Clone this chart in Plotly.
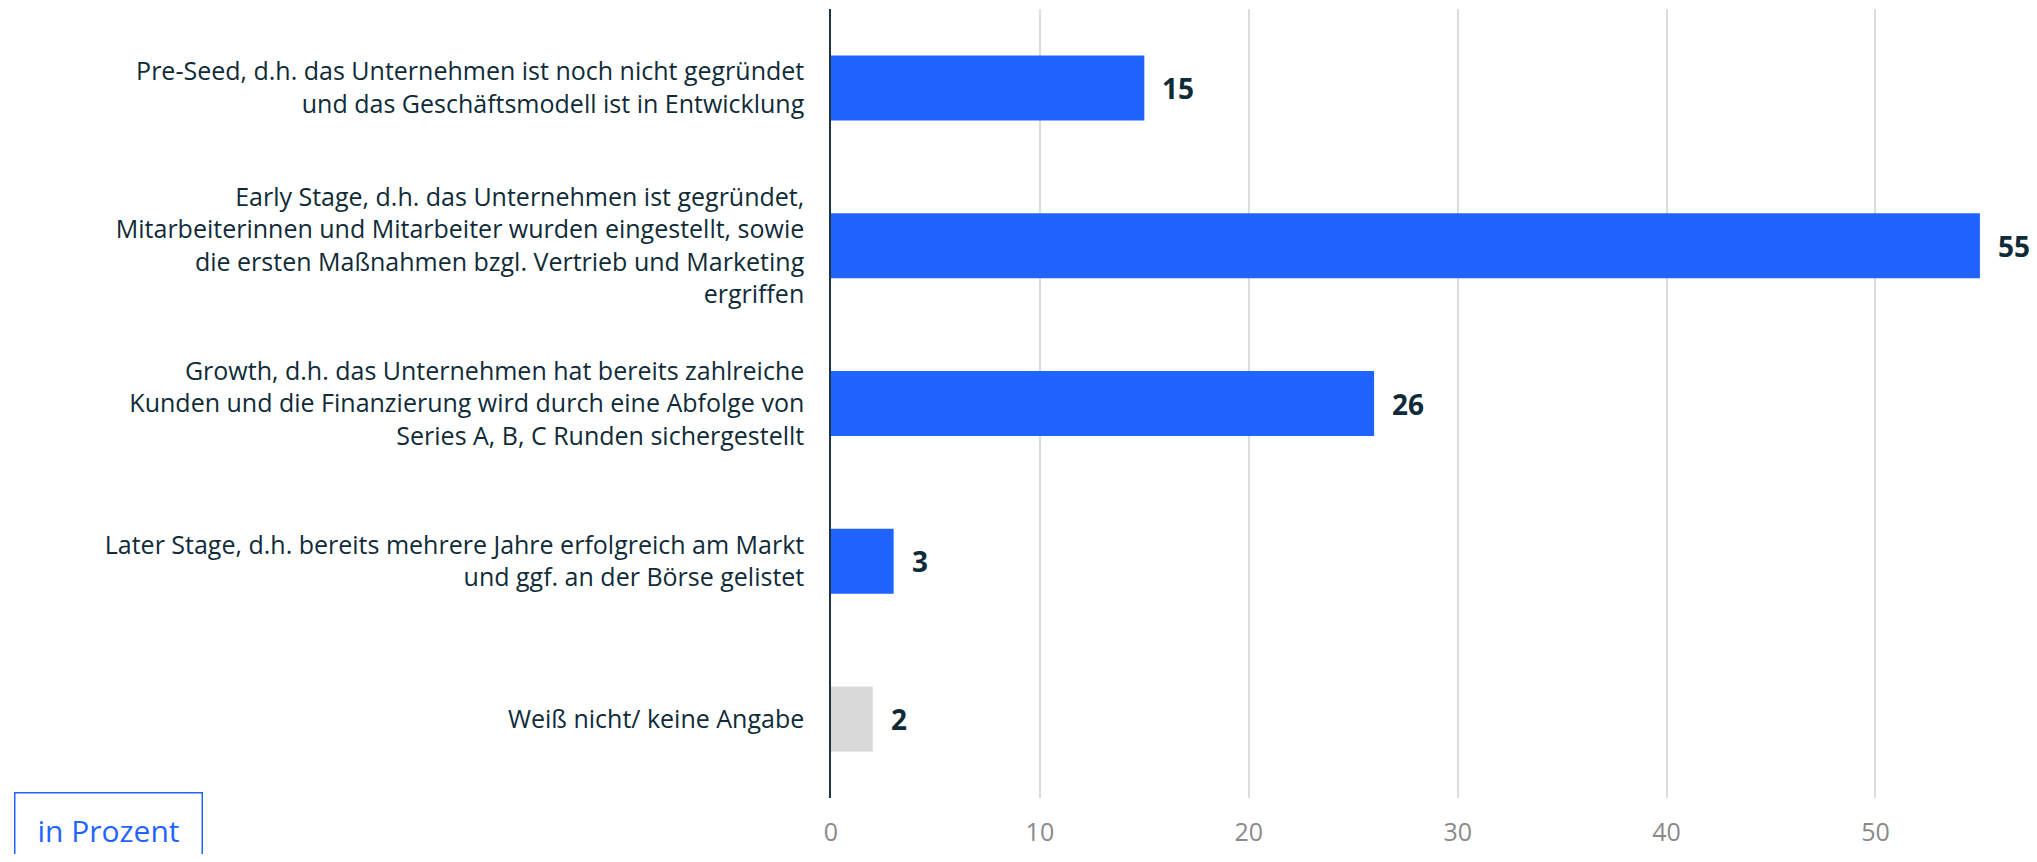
import plotly.graph_objects as go

# Daten
categories = [
    "Pre-Seed, d.h. das Unternehmen ist noch nicht gegründet<br>und das Geschäftsmodell ist in Entwicklung",
    "Early Stage, d.h. das Unternehmen ist gegründet,<br>Mitarbeiterinnen und Mitarbeiter wurden eingestellt, sowie<br>die ersten Maßnahmen bzgl. Vertrieb und Marketing<br>ergriffen",
    "Growth, d.h. das Unternehmen hat bereits zahlreiche<br>Kunden und die Finanzierung wird durch eine Abfolge von<br>Series A, B, C Runden sichergestellt",
    "Later Stage, d.h. bereits mehrere Jahre erfolgreich am Markt<br>und ggf. an der Börse gelistet",
    "Weiß nicht/ keine Angabe",
]
values = [15, 55, 26, 3, 2]
bar_colors = ["#1f64ff", "#1f64ff", "#1f64ff", "#1f64ff", "#d9d9d9"]
x_ticks = [0, 10, 20, 30, 40, 50]
unit_label = "in Prozent"

FONT = "Open Sans"
TEXT = "#0f2b38"

# die Seite hat 8px Rand -> Figur etwas kleiner
W, H = 2021, 846
L, T, B = 823, 1, 56

fig = go.Figure()
fig.add_trace(go.Bar(
    x=values,
    y=categories,
    orientation="h",
    marker=dict(color=bar_colors, line=dict(width=0)),
    hoverinfo="x",
))

# Werte neben den Balken
for cat, val in zip(categories, values):
    fig.add_annotation(
        x=val, y=cat, text="<b>%d</b>" % val,
        showarrow=False, xanchor="left", xshift=16,
        font=dict(family=FONT, size=28, color=TEXT),
    )

# Einheit unten links
fig.add_annotation(
    x=0, y=0, xref="paper", yref="paper",
    xshift=6 - L, yshift=6,
    xanchor="left", yanchor="top",
    text=unit_label, showarrow=False,
    width=154, height=100, valign="top", align="center",
    font=dict(family=FONT, size=30, color="#1f64ff"),
    bordercolor="#1f64ff", borderwidth=1.5, borderpad=16,
    bgcolor="white",
)

fig.update_layout(
    width=W,
    height=H,
    margin=dict(l=L, r=0, t=T, b=B, autoexpand=False),
    paper_bgcolor="white",
    plot_bgcolor="white",
    bargap=0.588,
    showlegend=False,
    font=dict(family=FONT, size=25, color=TEXT),
    xaxis=dict(
        range=[0, 57.35],
        tickvals=x_ticks,
        automargin=False,
        showgrid=True, gridcolor="#dcdcdc", gridwidth=1.5,
        zeroline=False,
        showline=False,
        ticks="",
        tickfont=dict(family=FONT, size=25, color="#8a8a8a"),
        ticklabelstandoff=17,
    ),
    yaxis=dict(
        autorange="reversed",
        automargin=False,
        showline=True, linecolor="#1d3542", linewidth=1.5,
        showgrid=False,
        ticks="",
        ticklabelstandoff=20,
        tickfont=dict(family=FONT, size=25, color=TEXT),
    ),
)

fig.write_html("out.html")
